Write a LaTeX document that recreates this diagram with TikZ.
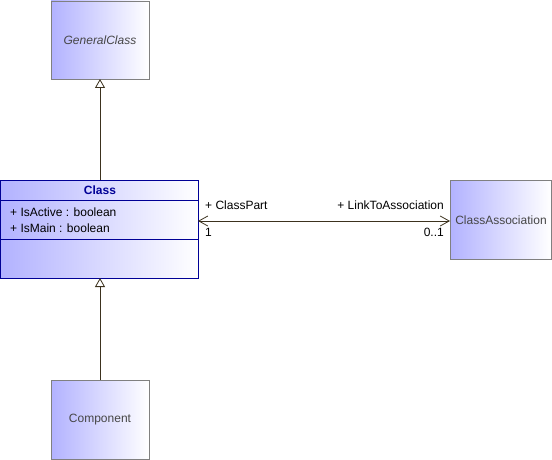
\documentclass[tikz,border=0pt]{standalone}
\usepackage{fontspec}
\setmainfont{Liberation Sans}
\usetikzlibrary{arrows.meta}
\definecolor{boxleft}{RGB}{178,178,255}
\definecolor{navyb}{RGB}{0,0,150}
\definecolor{grayb}{RGB}{128,128,128}
\definecolor{linec}{RGB}{60,50,30}
\definecolor{txtg}{RGB}{70,70,70}
\tikzset{
  umlbox/.style={draw=grayb, left color=boxleft, right color=white, line width=0.8pt, inner sep=0pt},
  umltxt/.style={font=\fontsize{12}{14}\selectfont, inner sep=0pt},
  gen/.style={draw=linec, line width=0.8pt, -{Triangle[open, width=10pt, length=9pt, fill=white]}},
  assoc/.style={draw=linec, line width=0.8pt, {Straight Barb[length=9pt,width=10pt]}-{Straight Barb[length=9pt,width=10pt]}}
}
\begin{document}
\begin{tikzpicture}[x=1pt,y=-1pt]
\useasboundingbox (0,0) rectangle (552,460);
% GeneralClass
\path[umlbox] (51,1) rectangle (149,79);
\node[umltxt, text=txtg, font=\fontsize{12}{14}\selectfont\itshape] (gc) at (100,40) {GeneralClass};
\coordinate (gcb) at (100,79);
% Class
\path[umlbox, draw=navyb] (0.5,180) rectangle (198,278);
\draw[navyb, line width=0.8pt] (0.5,200) -- (198,200);
\draw[navyb, line width=0.8pt] (0.5,239) -- (198,239);
\node[umltxt, text=navyb, font=\fontsize{12}{14}\selectfont\bfseries] (cls) at (100,190) {Class};
\node[umltxt, anchor=west] (a1) at (10,212) {+ IsActive : boolean};
\node[umltxt, anchor=west] (a2) at (10,228) {+ IsMain : boolean};
\coordinate (clt) at (100,180);
\coordinate (clb) at (100,278);
\coordinate (clr) at (198,221);
% ClassAssociation
\path[umlbox] (450,180) rectangle (551,259);
\node[umltxt, text=txtg] (ca) at (501,220) {ClassAssociation};
\coordinate (cal) at (450,221);
% Component
\path[umlbox] (51,380) rectangle (149,459);
\node[umltxt, text=txtg] (comp) at (100,420) {Component};
\coordinate (compt) at (100,380);
% connectors
\draw[gen] (clt) -- (gcb);
\draw[gen] (compt) -- (clb);
\draw[assoc] (clr) -- (cal);
% labels
\node[umltxt, anchor=west] (l1) at (205,205) {+ ClassPart};
\node[umltxt, anchor=west] (l2) at (205,232) {1};
\node[umltxt, anchor=east] (l3) at (444,205) {+ LinkToAssociation};
\node[umltxt, anchor=east] (l4) at (444,232) {0..1};
\end{tikzpicture}
\end{document}
